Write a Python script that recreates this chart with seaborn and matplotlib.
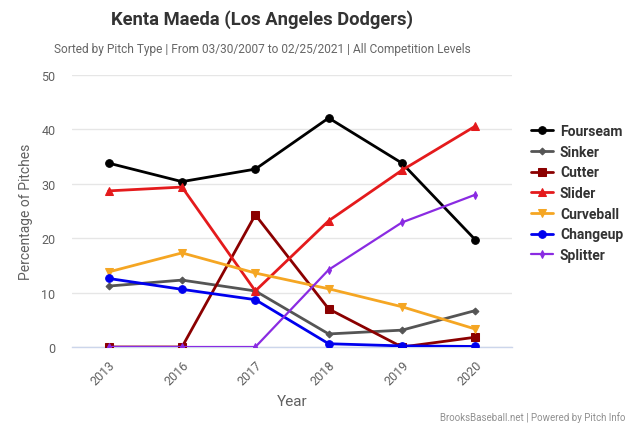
import matplotlib
matplotlib.use("Agg")
import matplotlib.pyplot as plt
import seaborn as sns
import pandas as pd

years = ["2013", "2016", "2017", "2018", "2019", "2020"]
fourseam = [33.8, 30.4, 32.7, 42.1, 33.8, 19.7]
sinker = [11.2, 12.3, 10.3, 2.4, 3.1, 6.7]
cutter = [0.0, 0.0, 24.3, 7.0, 0.0, 1.8]
slider = [28.7, 29.4, 10.3, 23.2, 32.5, 40.6]
curveball = [13.8, 17.3, 13.6, 10.7, 7.4, 3.3]
changeup = [12.6, 10.6, 8.7, 0.6, 0.2, 0.1]
splitter = [0.0, 0.0, 0.0, 14.2, 22.9, 28.0]

series = {
    "Fourseam": fourseam,
    "Sinker": sinker,
    "Cutter": cutter,
    "Slider": slider,
    "Curveball": curveball,
    "Changeup": changeup,
    "Splitter": splitter,
}
colors = {
    "Fourseam": "#000000",
    "Sinker": "#555555",
    "Cutter": "#8b0000",
    "Slider": "#e41a1c",
    "Curveball": "#f5a623",
    "Changeup": "#0000ee",
    "Splitter": "#8a2be2",
}
markers = {
    "Fourseam": "o",
    "Sinker": "D",
    "Cutter": "s",
    "Slider": "^",
    "Curveball": "v",
    "Changeup": "o",
    "Splitter": "d",
}
msize = {
    "Fourseam": 5.5, "Sinker": 3.5, "Cutter": 5.5, "Slider": 5.5,
    "Curveball": 5.5, "Changeup": 5.5, "Splitter": 4,
}
lw = {
    "Fourseam": 2, "Sinker": 2, "Cutter": 2, "Slider": 2,
    "Curveball": 2, "Changeup": 2, "Splitter": 1.6,
}

rows = []
for name, vals in series.items():
    for i, (y, v) in enumerate(zip(years, vals)):
        rows.append({"Year": i, "Pct": v, "Pitch": name})
df = pd.DataFrame(rows)

sns.set_theme(style="white")
plt.rcParams["font.family"] = ["Roboto", "DejaVu Sans"]

fig = plt.figure(figsize=(6.4, 4.27), dpi=100)
ax = fig.add_axes([0.1125, 0.185, 0.6875, 0.637])

for name in series:
    sub = df[df["Pitch"] == name]
    sns.lineplot(data=sub, x="Year", y="Pct", ax=ax, color=colors[name],
                 marker=markers[name], markersize=msize[name],
                 markeredgecolor=colors[name], linewidth=lw[name],
                 label=name, sort=False, zorder=3)

ax.set_xlim(-0.5, len(years) - 0.5)
ax.set_ylim(0, 50)
ax.set_xticks(range(len(years)))
ax.set_xticklabels(years, rotation=45, ha="right", rotation_mode="anchor",
                   color="#606060", fontsize=9)
ax.set_yticks([0, 10, 20, 30, 40, 50])
ax.set_yticklabels(["0", "10", "20", "30", "40", "50"], color="#606060", fontsize=9)
ax.tick_params(axis="y", length=0, pad=12)
ax.tick_params(axis="x", length=0, pad=8)
ax.grid(axis="y", color="#e6e6e6", linewidth=1)
ax.set_axisbelow(True)
for s in ["top", "right", "left"]:
    ax.spines[s].set_visible(False)
ax.spines["bottom"].set_color("#ccd6eb")
ax.spines["bottom"].set_linewidth(1)

ax.set_xlabel("Year", color="#606060", fontsize=11, labelpad=5)
ax.set_ylabel("Percentage of Pitches", color="#606060", fontsize=10, labelpad=6)

leg = ax.legend(loc="upper left", bbox_to_anchor=(1.03, 0.84), frameon=False,
                fontsize=10, handlelength=1.6, handletextpad=0.5,
                labelspacing=0.48, borderaxespad=0)
for t in leg.get_texts():
    t.set_fontweight("bold")
    t.set_color("#333333")

fig.text(0.41, 0.955, "Kenta Maeda (Los Angeles Dodgers)", ha="center", va="center",
         fontsize=13.2, fontweight="bold", color="#333333")
fig.text(0.41, 0.885, "Sorted by Pitch Type | From 03/30/2007 to 02/25/2021 | All Competition Levels",
         ha="center", va="center", fontsize=8.6, color="#666666")
fig.text(0.978, 0.01, "BrooksBaseball.net | Powered by Pitch Info", ha="right",
         va="bottom", fontsize=7, color="#909090")

fig.savefig("out.png", dpi=100)
